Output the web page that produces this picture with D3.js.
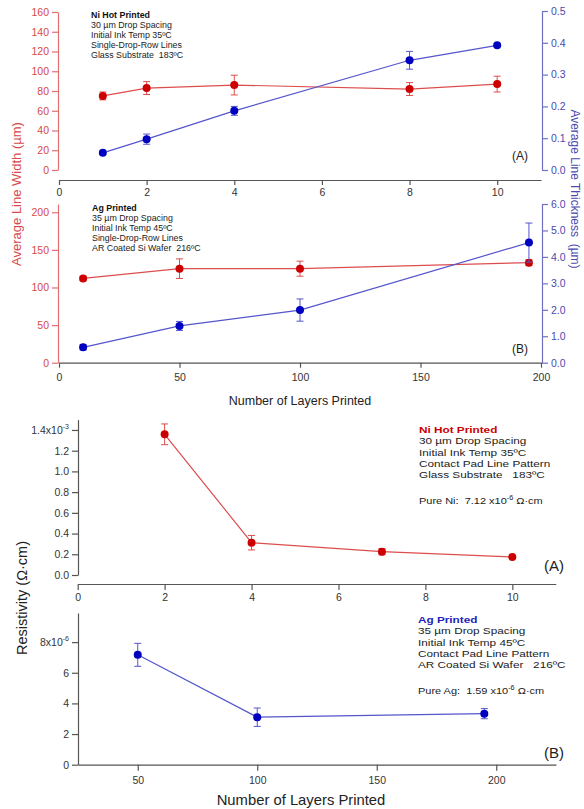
<!DOCTYPE html>
<html>
<head>
<meta charset="utf-8">
<script src="https://cdn.jsdelivr.net/npm/d3@7"></script>
<style>
  body { margin: 0; background: #fff; }
  svg { font-family: Arial, "Liberation Sans", sans-serif; }
  svg text { white-space: pre; }
</style>
</head>
<body>
<div id="chart"></div>
<script>
// (A) Ni hot printed lines
const niLayers = [1, 2, 4, 8, 10];
const niWidth = [75, 83, 86, 82, 87];
const niWidthErr = [4, 6.5, 10, 6.5, 8];
const niThick = [0.054, 0.097, 0.186, 0.345, 0.392];
const niThickErr = [0.005, 0.016, 0.014, 0.028, 0.005];

// (B) Ag printed lines
const agLayers = [10, 50, 100, 195];
const agWidth = [112, 125, 125, 133];
const agWidthErr = [3, 13, 10, 4];
const agThick = [0.58, 1.39, 1.99, 4.54];
const agThickErr = [0.1, 0.17, 0.42, 0.74];

// resistivity, Ni (x10^-3) and Ag (x10^-6)
const niResLayers = [2, 4, 7, 10];
const niRes = [1.358, 0.312, 0.225, 0.174];
const niResErr = [0.1, 0.07, 0.03, 0.01];
const agResLayers = [50, 100, 195];
const agRes = [7.17, 3.1, 3.33];
const agResErr = [0.75, 0.6, 0.33];

const width = 584;
const height = 809;

const red = '#cc0000';
const redLine = '#dd4d4d';
const redAxis = '#e07070';
const blue = '#0000c0';
const blueLine = '#5555cc';
const blueAxis = '#7070c0';
const gray = '#555';

const svg = d3.select('#chart')
  .append('svg')
  .attr('width', width)
  .attr('height', height);

function styleAxis(g, color, textColor, size) {
  g.selectAll('path, line').attr('stroke', color).attr('stroke-width', 1.2);
  g.selectAll('text').attr('fill', textColor).style('font-size', size + 'px');
}

function drawSeries(xs, ys, errs, x, y, lineColor, markColor) {
  const pts = xs.map((d, i) => ({ x: d, y: ys[i], e: errs[i] }));
  svg.append('path')
    .datum(pts)
    .attr('fill', 'none')
    .attr('stroke', lineColor)
    .attr('stroke-width', 1.2)
    .attr('d', d3.line().x(d => x(d.x)).y(d => y(d.y)));

  const g = svg.append('g').attr('stroke', lineColor).attr('stroke-width', 1);
  pts.forEach(d => {
    const cx = x(d.x);
    g.append('line').attr('x1', cx).attr('x2', cx)
      .attr('y1', y(d.y - d.e)).attr('y2', y(d.y + d.e));
    [d.y - d.e, d.y + d.e].forEach(v => {
      g.append('line').attr('x1', cx - 3.5).attr('x2', cx + 3.5)
        .attr('y1', y(v)).attr('y2', y(v));
    });
  });

  svg.append('g')
    .selectAll('circle')
    .data(pts)
    .enter()
    .append('circle')
    .attr('cx', d => x(d.x))
    .attr('cy', d => y(d.y))
    .attr('r', 4)
    .attr('fill', markColor);
}

// text block; sx stretches it sideways like the scanned figure
function note(x0, y0, lines, step, size, titleColor, sx) {
  const t = svg.append('g')
    .attr('transform', `translate(${x0},${y0}) scale(${sx},1)`)
    .style('font-size', size + 'px')
    .attr('fill', '#222');
  lines.forEach((s, i) => {
    const el = t.append('text').attr('x', 0).attr('y', i * step).text(s);
    if (i === 0) el.style('font-weight', 'bold').attr('fill', titleColor);
  });
  return t;
}

function pureLine(x0, y0, name, value, sx) {
  svg.append('text')
    .attr('transform', `translate(${x0},${y0}) scale(${sx},1)`)
    .style('font-size', '9.8px')
    .attr('fill', '#222')
    .call(t => {
      t.append('tspan').text(`Pure ${name}:  ${value} x10`);
      t.append('tspan').attr('dy', -4).style('font-size', '6.5px').text('-6');
      t.append('tspan').attr('dy', 4).text(' Ω·cm');
    });
}

function supLabel(g, value, base, exp) {
  g.selectAll('.tick text')
    .filter(d => Math.abs(d - value) < 1e-9)
    .text(null)
    .call(t => {
      t.append('tspan').text(base);
      t.append('tspan').attr('dy', -5).style('font-size', '7px').text(exp);
    });
}

// ---------- panel A ----------
const xA = d3.scaleLinear().domain([0, 11]).range([59, 541]);
const yA = d3.scaleLinear().domain([0, 160]).range([170, 12]);
const yA2 = d3.scaleLinear().domain([0, 0.5]).range([170, 11]);

svg.append('g').attr('transform', 'translate(0,180)')
  .call(d3.axisBottom(xA).tickValues([0, 2, 4, 6, 8, 10]).tickSize(5).tickSizeOuter(0).tickPadding(4))
  .call(g => styleAxis(g, gray, '#333', 10.5));
svg.append('g').attr('transform', 'translate(58,0)')
  .call(d3.axisLeft(yA).tickValues(d3.range(0, 161, 20)).tickSize(6).tickSizeOuter(0))
  .call(g => styleAxis(g, redAxis, '#d84a4a', 10.5));
svg.append('g').attr('transform', 'translate(542,0)')
  .call(d3.axisRight(yA2).tickValues([0, 0.1, 0.2, 0.3, 0.4, 0.5]).tickFormat(d3.format('.1f')).tickSize(6).tickSizeOuter(0))
  .call(g => styleAxis(g, blueAxis, '#4a4ab0', 10.5));

drawSeries(niLayers, niWidth, niWidthErr, xA, yA, redLine, red);
drawSeries(niLayers, niThick, niThickErr, xA, yA2, blueLine, blue);

note(91, 18, ['Ni Hot Printed', '30 µm Drop Spacing', 'Initial Ink Temp 35ºC',
  'Single-Drop-Row Lines', 'Glass Substrate  183ºC'], 10, 8.6, '#111', 1.03);
svg.append('text').attr('x', 512).attr('y', 160).style('font-size', '12px').attr('fill', '#222').text('(A)');

// ---------- panel B ----------
const xB = d3.scaleLinear().domain([0, 200]).range([59, 541]);
const yB = d3.scaleLinear().domain([0, 211]).range([362.7, 204]);
const yB2 = d3.scaleLinear().domain([0, 6]).range([362.7, 204]);

svg.append('g').attr('transform', 'translate(0,362.7)')
  .call(d3.axisBottom(xB).tickValues([0, 50, 100, 150, 200]).tickSize(5).tickSizeOuter(0).tickPadding(6))
  .call(g => styleAxis(g, gray, '#333', 10.5));
svg.append('g').attr('transform', 'translate(58,0)')
  .call(d3.axisLeft(yB).tickValues([0, 50, 100, 150, 200]).tickSize(6).tickSizeOuter(0))
  .call(g => styleAxis(g, redAxis, '#d84a4a', 10.5));
svg.append('g').attr('transform', 'translate(542,0)')
  .call(d3.axisRight(yB2).tickValues(d3.range(0, 7)).tickSize(6).tickSizeOuter(0))
  .call(g => styleAxis(g, blueAxis, '#4a4ab0', 10.5));

drawSeries(agLayers, agWidth, agWidthErr, xB, yB, redLine, red);
drawSeries(agLayers, agThick, agThickErr, xB, yB2, blueLine, blue);

note(92, 211, ['Ag Printed', '35 µm Drop Spacing', 'Initial Ink Temp 45ºC',
  'Single-Drop-Row Lines', 'AR Coated Si Wafer  216ºC'], 10, 8.6, '#111', 1.03);
svg.append('text').attr('x', 512).attr('y', 353).style('font-size', '12px').attr('fill', '#222').text('(B)');

svg.append('text').attr('x', 300).attr('y', 405).attr('text-anchor', 'middle')
  .style('font-size', '12.5px').attr('fill', '#222').text('Number of Layers Printed');

svg.append('text').attr('transform', 'translate(21,194) rotate(-90)').attr('text-anchor', 'middle')
  .style('font-size', '13px').attr('fill', '#d84a4a').text('Average Line Width (µm)');
svg.append('text').attr('transform', 'translate(571,189) rotate(90)').attr('text-anchor', 'middle')
  .style('font-size', '12px').attr('fill', '#4a4ab0').text('Average Line Thickness  (µm)');

// ---------- panel C ----------
const xC = d3.scaleLinear().domain([0, 11]).range([77.7, 555.8]);
const yC = d3.scaleLinear().domain([0, 1.5]).range([575, 419.6]);

svg.append('g').attr('transform', 'translate(0,584)')
  .call(d3.axisBottom(xC).tickValues([0, 2, 4, 6, 8, 10]).tickSize(6).tickSizeOuter(0).tickPadding(4))
  .call(g => styleAxis(g, gray, '#333', 10.5));
svg.append('g').attr('transform', 'translate(78,0)')
  .call(d3.axisLeft(yC).tickValues(d3.range(0, 1.41, 0.2)).tickFormat(d3.format('.1f')).tickSize(6).tickSizeOuter(0))
  .call(g => styleAxis(g, gray, '#333', 10.5))
  .call(g => supLabel(g, 1.4, '1.4x10', '-3'));

drawSeries(niResLayers, niRes, niResErr, xC, yC, redLine, red);

note(419, 433, ['Ni Hot Printed', '30 µm Drop Spacing', 'Initial Ink Temp 35ºC',
  'Contact Pad Line Pattern', 'Glass Substrate   183ºC'], 11.3, 9.8, '#cc0000', 1.2);
pureLine(419, 504, 'Ni', '7.12', 1.12);
svg.append('text').attr('x', 544).attr('y', 571).style('font-size', '15px').attr('fill', '#222').text('(A)');

// ---------- panel D ----------
const xD = d3.scaleLinear().domain([25, 225]).range([78, 556]);
const yD = d3.scaleLinear().domain([0, 9.9]).range([764.7, 613]);

svg.append('g').attr('transform', 'translate(0,764.7)')
  .call(d3.axisBottom(xD).tickValues([50, 100, 150, 200]).tickSize(6).tickSizeOuter(0).tickPadding(6))
  .call(g => styleAxis(g, gray, '#333', 10.5));
svg.append('g').attr('transform', 'translate(78,0)')
  .call(d3.axisLeft(yD).tickValues([0, 2, 4, 6, 8]).tickSize(6).tickSizeOuter(0))
  .call(g => styleAxis(g, gray, '#333', 10.5))
  .call(g => supLabel(g, 8, '8x10', '-6'));

drawSeries(agResLayers, agRes, agResErr, xD, yD, blueLine, blue);

note(418, 623, ['Ag Printed', '35 µm Drop Spacing', 'Initial Ink Temp 45ºC',
  'Contact Pad Line Pattern', 'AR Coated Si Wafer   216ºC'], 11.3, 9.8, '#2222bb', 1.2);
pureLine(418, 694, 'Ag', '1.59', 1.12);
svg.append('text').attr('x', 544).attr('y', 758).style('font-size', '15px').attr('fill', '#222').text('(B)');

svg.append('text').attr('x', 301).attr('y', 805).attr('text-anchor', 'middle')
  .style('font-size', '14.8px').attr('fill', '#222').text('Number of Layers Printed');
svg.append('text').attr('transform', 'translate(27,598) rotate(-90)').attr('text-anchor', 'middle')
  .style('font-size', '14.5px').attr('fill', '#222').text('Resistivity (Ω·cm)');
</script>
</body>
</html>
